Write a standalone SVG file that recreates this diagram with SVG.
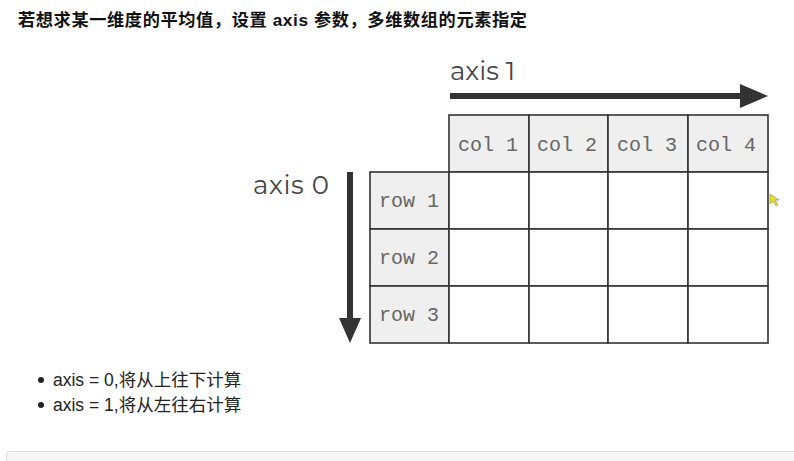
<svg xmlns="http://www.w3.org/2000/svg" width="794" height="461" viewBox="0 0 794 461">
<defs>
<style>
.title{font-family:"Liberation Sans","Noto Sans CJK SC",sans-serif;font-size:17.2px;font-weight:bold;fill:#111}
.axis{font-family:"Montserrat","Lato","Noto Sans",sans-serif;font-size:26px;fill:#444}
.mono{font-family:"Liberation Mono",monospace;font-size:20px;fill:#666}
.bul{font-family:"Liberation Sans","Noto Sans CJK SC",sans-serif;font-size:17.5px;fill:#222}
.hdr{fill:#efefef;stroke:#333;stroke-width:1.6}
.cell{fill:#fff;stroke:#333;stroke-width:1.6}
.arr{stroke:#333;stroke-width:6;fill:none}
.head{fill:#333}
</style>
</defs>
<rect width="794" height="461" fill="#fff"/>
<text class="title" x="18" y="26" textLength="509">若想求某一维度的平均值，设置 axis 参数，多维数组的元素指定</text>

<g id="axis1">
<text class="axis" x="450" y="80">axis 1</text>
</g>
<g id="axis0">
<text class="axis" x="253" y="194" textLength="76">axis 0</text>
</g>

<g id="connectors">
<line class="arr" x1="450" y1="96" x2="742" y2="96"/>
<polygon class="head" points="740,84 768,96 740,108"/>
<line class="arr" x1="350" y1="172" x2="350" y2="320"/>
<polygon class="head" points="339,318 361,318 350,343"/>
</g>

<g id="header">
<rect class="hdr" x="449" y="115" width="80" height="57"/>
<rect class="hdr" x="529" y="115" width="79" height="57"/>
<rect class="hdr" x="608" y="115" width="80" height="57"/>
<rect class="hdr" x="688" y="115" width="80" height="57"/>
<text class="mono" x="458" y="151">col 1</text>
<text class="mono" x="537" y="151">col 2</text>
<text class="mono" x="617" y="151">col 3</text>
<text class="mono" x="696" y="151">col 4</text>
</g>

<g id="rows">
<rect class="hdr" x="370" y="172" width="79" height="57"/>
<rect class="hdr" x="370" y="229" width="79" height="57"/>
<rect class="hdr" x="370" y="286" width="79" height="57"/>
<text class="mono" x="379" y="207">row 1</text>
<text class="mono" x="379" y="264">row 2</text>
<text class="mono" x="379" y="321">row 3</text>
</g>

<g id="cells">
<rect class="cell" x="449" y="172" width="80" height="57"/>
<rect class="cell" x="529" y="172" width="79" height="57"/>
<rect class="cell" x="608" y="172" width="80" height="57"/>
<rect class="cell" x="688" y="172" width="80" height="57"/>
<rect class="cell" x="449" y="229" width="80" height="57"/>
<rect class="cell" x="529" y="229" width="79" height="57"/>
<rect class="cell" x="608" y="229" width="80" height="57"/>
<rect class="cell" x="688" y="229" width="80" height="57"/>
<rect class="cell" x="449" y="286" width="80" height="57"/>
<rect class="cell" x="529" y="286" width="79" height="57"/>
<rect class="cell" x="608" y="286" width="80" height="57"/>
<rect class="cell" x="688" y="286" width="80" height="57"/>
</g>

<polygon points="770,194 770,204 773,201 776,206 778,205 775,200 779,200" fill="#e6e020" stroke="#888" stroke-width="0.6"/>

<g id="bullets">
<circle cx="41" cy="380" r="3" fill="#222"/>
<text class="bul" x="53" y="386">axis = 0,将从上往下计算</text>
<circle cx="41" cy="405" r="3" fill="#222"/>
<text class="bul" x="53" y="411">axis = 1,将从左往右计算</text>
</g>

<rect x="6.5" y="451.5" width="800" height="20" rx="3" fill="#f6f6f6" stroke="#dcdcdc"/>
</svg>
